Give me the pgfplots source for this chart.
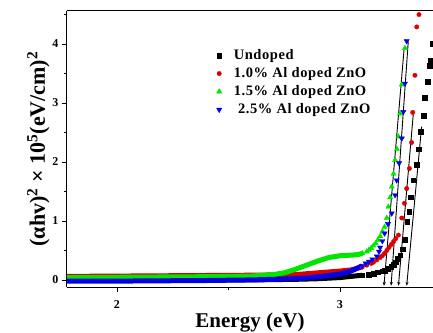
\documentclass[border=0pt]{standalone}
\usepackage{fontspec}
\setmainfont{Liberation Serif}
\newfontfamily\legfont[LetterSpace=4]{Liberation Serif}
\usepackage{pgfplots}
\pgfplotsset{compat=1.18}
\usetikzlibrary{arrows.meta}
\definecolor{cgreen}{RGB}{0,230,0}
\definecolor{cred}{RGB}{220,0,0}
\definecolor{cblue}{RGB}{0,0,230}
\begin{document}
\begin{tikzpicture}
\begin{axis}[
  scale only axis, width=366pt, height=276pt,
  xmin=1.776, xmax=3.417, ymin=-0.12, ymax=4.56,
  axis x line=box, axis y line=left, axis line style={-, line width=1pt},
  xtick={2,3}, minor xtick={2.5}, ytick={0,1,2,3,4}, minor ytick={0.5,1.5,2.5,3.5,4.5},
  xtick pos=bottom, ytick pos=left, tick align=outside,
  major tick length=5pt, minor tick length=3pt, every tick/.style={black, line width=0.8pt},
  /pgf/number format/assume math mode=true,
  ticklabel style={font=\bfseries\fontsize{12}{13}\selectfont},
  xticklabel style={yshift=-5pt},
  xlabel={\bfseries\fontsize{21}{22}\selectfont Energy (eV)},
  ylabel={\bfseries\fontsize{22}{23}\selectfont (αhv)\textsuperscript{2} × 10\textsuperscript{5}(eV/cm)\textsuperscript{2}},
  xlabel style={yshift=3pt}, ylabel style={yshift=-4pt},
  legend style={at={(0.40,0.875)}, anchor=north west, draw=none, fill=none,
    font=\legfont\bfseries\fontsize{14.5}{15}\selectfont, row sep=2.5pt, column sep=10pt},
  legend cell align=left,
]
\addplot[only marks, mark=square*, mark size=2.3pt, black] coordinates {
(3.29,0.68) (3.302,0.99) (3.31,1.16) (3.317,1.40) (3.329,1.69) (3.344,1.95) (3.354,2.22) (3.362,2.51) (3.374,2.78) (3.381,3.09) (3.392,3.36) (3.401,3.63) (3.408,3.72) (3.414,4.01)
(3.10,0.08) (3.13,0.09) (3.15,0.11) (3.17,0.13) (3.19,0.15) (3.2,0.16) (3.215,0.19) (3.23,0.22) (3.24,0.26) (3.25,0.30) (3.26,0.36) (3.27,0.42) (3.28,0.52)};
\addlegendentry{Undoped}
\addplot[only marks, mark=*, mark size=2.2pt, cred] coordinates {
(3.262,0.76) (3.277,1.05) (3.289,1.30) (3.299,1.55) (3.311,1.89) (3.321,2.33) (3.326,2.84) (3.336,3.47) (3.344,4.29) (3.354,4.50)
(3.1,0.22) (3.12,0.25) (3.14,0.28) (3.15,0.30) (3.165,0.34) (3.18,0.38) (3.19,0.41) (3.2,0.45) (3.21,0.50) (3.22,0.55) (3.23,0.60) (3.24,0.65) (3.25,0.70)};
\addlegendentry{1.0\% Al doped ZnO}
\addplot[only marks, mark=triangle*, mark size=3pt, cgreen] coordinates {
(3.10,0.45) (3.12,0.48) (3.13,0.51) (3.14,0.54) (3.15,0.58) (3.16,0.62) (3.17,0.68) (3.18,0.74) (3.19,0.82) (3.2,0.90) (3.21,1.05) (3.217,1.24) (3.225,1.40) (3.232,1.58) (3.24,1.80) (3.247,2.03) (3.255,2.22) (3.262,2.43) (3.269,2.82) (3.277,3.31) (3.291,3.93)};
\addlegendentry{1.5\% Al doped ZnO}
\addplot[only marks, mark=triangle*, mark options={rotate=180}, mark size=3pt, cblue] coordinates {
(3.1,0.24) (3.115,0.28) (3.13,0.31) (3.145,0.35) (3.165,0.40) (3.175,0.48) (3.18,0.55) (3.19,0.66) (3.2,0.79) (3.215,0.95) (3.232,1.13) (3.247,1.44) (3.254,1.69) (3.265,1.98) (3.277,2.40) (3.284,2.85) (3.291,3.33) (3.299,4.05)};
\addlegendentry{\ 2.5\% Al doped ZnO}
\addplot[black, line width=5pt, forget plot] coordinates {
(1.776,0.0) (2.0,0.0) (2.2,0.0) (2.4,0.0) (2.6,0.0) (2.8,0.01) (2.9,0.02) (3.0,0.04) (3.05,0.06) (3.1,0.08)};
\addplot[cred, line width=5pt, forget plot] coordinates {
(1.776,0.06) (2.0,0.065) (2.2,0.07) (2.4,0.075) (2.6,0.08) (2.8,0.09) (2.9,0.12) (3.0,0.15) (3.05,0.17) (3.1,0.22)};
\addplot[cgreen, line width=5pt, forget plot] coordinates {
(1.776,0.04) (2.0,0.045) (2.2,0.05) (2.4,0.055) (2.6,0.065) (2.7,0.09) (2.75,0.12) (2.8,0.18) (2.85,0.25) (2.9,0.32) (2.95,0.38) (3.0,0.41) (3.05,0.42) (3.08,0.43) (3.1,0.45)};
\addplot[cblue, line width=5pt, forget plot] coordinates {
(1.776,-0.02) (2.0,-0.02) (2.2,-0.015) (2.4,-0.01) (2.6,0.0) (2.8,0.02) (2.9,0.05) (3.0,0.10) (3.05,0.15) (3.1,0.24)};
\addplot[black, line width=0.9pt, -{Stealth[length=4pt,width=3pt]}, forget plot] coordinates {(3.366,2.60) (3.299,-0.10)};
\addplot[black, line width=0.9pt, -{Stealth[length=4pt,width=3pt]}, forget plot] coordinates {(3.329,2.83) (3.262,-0.10)};
\addplot[black, line width=0.9pt, -{Stealth[length=4pt,width=3pt]}, forget plot] coordinates {(3.306,4.04) (3.229,-0.10)};
\addplot[black, line width=0.9pt, -{Stealth[length=4pt,width=3pt]}, forget plot] coordinates {(3.287,3.90) (3.197,-0.10)};
\end{axis}
\pgfresetboundingbox
\path ([xshift=-67pt,yshift=-45pt]current axis.south west) rectangle ([yshift=11pt]current axis.north east);
\end{tikzpicture}
\end{document}
